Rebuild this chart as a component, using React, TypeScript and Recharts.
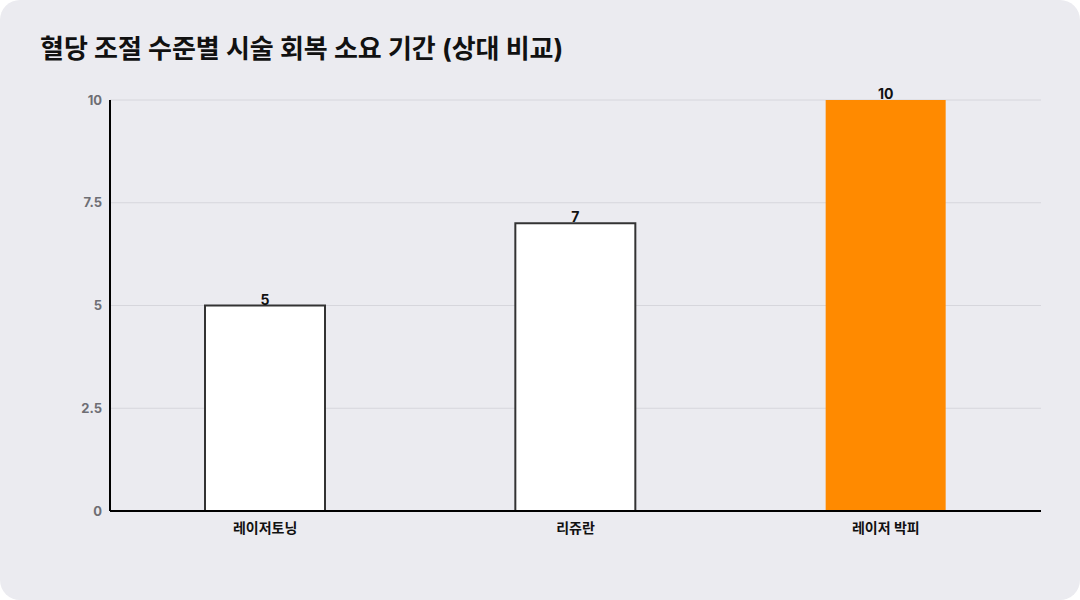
import { Bar, BarChart, CartesianGrid, Cell, LabelList, XAxis, YAxis } from "recharts";

const categories = ["레이저토닝", "리쥬란", "레이저 박피"];
const recovery = [5, 7, 10];
const yTicks = [0, 2.5, 5, 7.5, 10];

const data = categories.map((name, i) => ({ name, value: recovery[i] }));

const font = "Inter, 'Noto Sans CJK KR', 'Noto Sans', sans-serif";

const App = () => (
    <div
        style={{
            position: "relative",
            width: 1080,
            height: 600,
            background: "#ebebf0",
            borderRadius: 20,
            fontFamily: font,
            overflow: "hidden",
        }}
    >
        <style>{`body { margin: 0; background: #ffffff; }`}</style>
        <div
            style={{
                position: "absolute",
                left: 40,
                top: 28,
                fontSize: 26,
                fontWeight: 700,
                color: "#111111",
            }}
        >
            혈당 조절 수준별 시술 회복 소요 기간 (상대 비교)
        </div>
        <div style={{ position: "absolute", left: 0, top: 0 }}>
            <BarChart
                width={1080}
                height={600}
                data={data}
                margin={{ top: 100, right: 39, bottom: 59, left: 60 }}
            >
                <CartesianGrid vertical={false} stroke="#d6d6dc" strokeWidth={1} />
                <XAxis
                    dataKey="name"
                    height={30}
                    axisLine={{ stroke: "#000000", strokeWidth: 2 }}
                    tickLine={false}
                    tick={{ fill: "#111111", fontSize: 14, fontWeight: 700, fontFamily: font }}
                    tickMargin={6}
                />
                <YAxis
                    width={50}
                    domain={[0, 10]}
                    ticks={yTicks}
                    axisLine={{ stroke: "#000000", strokeWidth: 2 }}
                    tickLine={false}
                    tick={{ fill: "#6e6e74", fontSize: 13, fontWeight: 700, fontFamily: font }}
                />
                <Bar dataKey="value" barSize={120} isAnimationActive={false}>
                    {data.map((d, i) => (
                        <Cell
                            key={d.name}
                            fill={i === 2 ? "#ff8a00" : "#ffffff"}
                            stroke={i === 2 ? "none" : "#333333"}
                            strokeWidth={i === 2 ? 0 : 2}
                        />
                    ))}
                    <LabelList
                        dataKey="value"
                        position="top"
                        offset={1}
                        style={{ fill: "#111111", fontSize: 14, fontWeight: 700, fontFamily: font }}
                    />
                </Bar>
            </BarChart>
        </div>
    </div>
);

export default App;
